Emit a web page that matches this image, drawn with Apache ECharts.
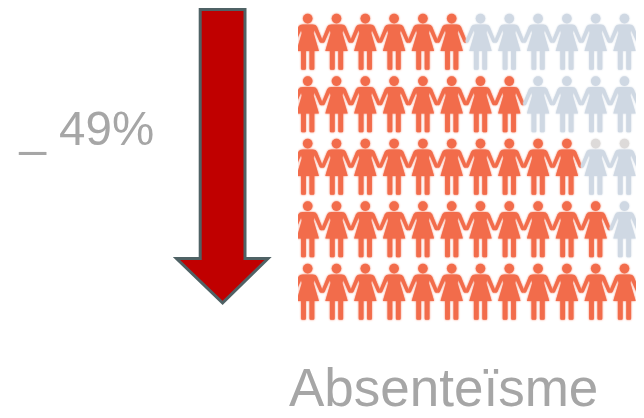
<!DOCTYPE html>
<html><head><meta charset="utf-8">
<style>html,body{margin:0;padding:0;background:#fff}#c{width:644px;height:418px}</style>
<script src="https://cdn.jsdelivr.net/npm/echarts@6/dist/echarts.min.js"></script>
</head><body><div id="c"></div>
<script>
const filledPerRow = [6, 8, 10, 11, 12];
const columnsPerRow = 12;
const warmHeadCols = { 2: [10, 11] };
const changeLabel = '_ 49%';
const metricLabel = 'Absenteïsme';
const ORANGE = '#F26C4B', GREY = '#CFD8E3', WARM = '#DDDAD9';

const bodyPath = 'M100 100 L200 100 Q232 100 243 122 L298 258 Q304 276 290 283 Q276 288 268 274 L216 155 L209 185 L262 367 L216 367 L216 545 Q216 555 206 555 L178 555 Q168 555 168 545 L168 367 L132 367 L132 545 Q132 555 122 555 L94 555 Q84 555 84 545 L84 367 L38 367 L91 185 L84 155 L32 274 Q24 288 10 283 Q-4 276 2 258 L57 122 Q68 100 100 100 Z';

const people = [];
filledPerRow.forEach((n, row) => {
  for (let col = 0; col < columnsPerRow; col++) {
    const warm = (warmHeadCols[row] || []).includes(col);
    people.push([col, row, col < n ? 1 : 0, warm ? 1 : 0]);
  }
});

const chart = echarts.init(document.getElementById('c'), null, { renderer: 'canvas' });
chart.setOption({
  animation: false,
  backgroundColor: '#fff',
  grid: { left: 298, top: 10.5, width: 338, height: 312.5, containLabel: false },
  xAxis: { type: 'value', min: -0.337, max: 11.4, show: false },
  yAxis: { type: 'value', min: -0.5, max: 4.5, inverse: true, show: false },
  series: [{
    type: 'custom',
    clip: true,
    coordinateSystem: 'cartesian2d',
    data: people,
    renderItem(params, api) {
      const p = api.coord([api.value(0), api.value(1)]);
      const color = api.value(2) ? ORANGE : GREY;
      const head = api.value(2) ? ORANGE : (api.value(3) ? WARM : GREY);
      const x0 = p[0] - 15, y0 = p[1] - 27.75;
      return {
        type: 'group',
        children: [
          { type: 'circle', shape: { cx: p[0], cy: y0 + 4.6, r: 4.8 }, style: { fill: head, shadowBlur: 2, shadowColor: head } },
          { type: 'path',
            shape: { pathData: bodyPath, layout: 'cover', x: x0, y: y0 + 10.5, width: 30, height: 45.2 },
            style: { fill: color, shadowBlur: 2, shadowColor: color } }
        ]
      };
    }
  }],
  graphic: [
    { type: 'polygon', shape: { points: [[200.2,9.5],[245,9.5],[245,258.5],[268,258.5],[222.6,302.8],[176.5,258.5],[200.2,258.5]] },
      style: { fill: '#C00000', stroke: '#4F6265', lineWidth: 3, lineJoin: 'miter' } },
    { type: 'text', left: 19.5, top: 108, style: { text: changeLabel, fill: '#A6A6A6', font: '47.5px "Liberation Sans"' } },
    { type: 'text', left: 289, top: 365, style: { text: metricLabel, fill: '#A6A6A6', font: '53px "Liberation Sans"' } }
  ]
});
</script></body></html>
